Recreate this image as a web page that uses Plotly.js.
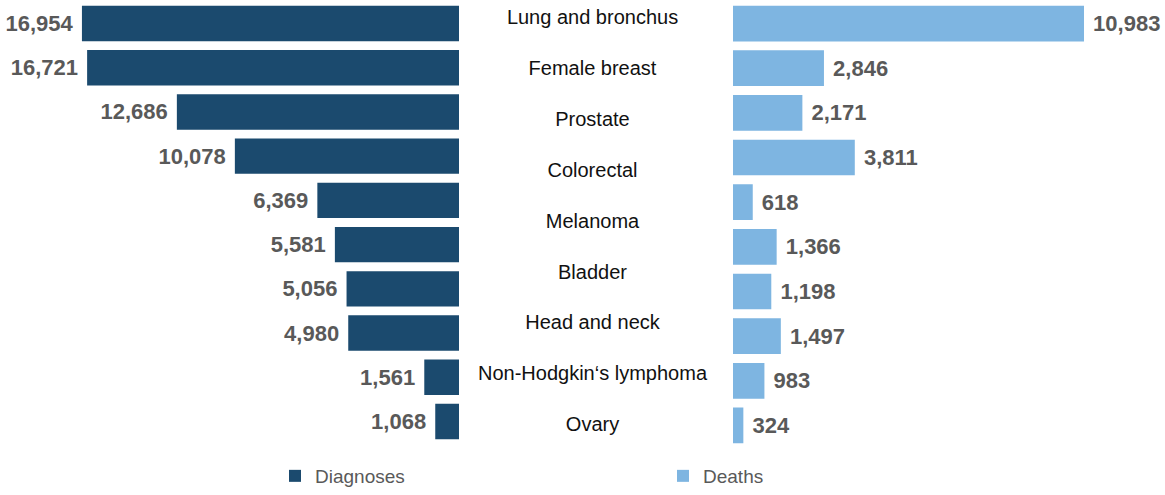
<!DOCTYPE html>
<html>
<head>
<meta charset="utf-8">
<script src="https://cdn.plot.ly/plotly-3.0.1.min.js"></script>
<style>
  html, body { margin: 0; padding: 0; background: #fff; }
  #chart { width: 1165px; height: 495px; }
</style>
</head>
<body>
<div id="chart"></div>
<script>
// ---- data ----
const rows = [1, 2, 3, 4, 5, 6, 7, 8, 9, 10];
const diagnoses = [16954, 16721, 12686, 10078, 6369, 5581, 5056, 4980, 1561, 1068];
const deaths = [10983, 2846, 2171, 3811, 618, 1366, 1198, 1497, 983, 324];
const cancerLabels = ['Lung and bronchus', 'Female breast', 'Prostate', 'Colorectal', 'Melanoma',
  'Bladder', 'Head and neck', 'Non-Hodgkin\u2018s lymphoma', 'Ovary'];

const W = 1165, H = 495;
const darkBlue = '#1B4A6E';
const lightBlue = '#7EB5E1';
const valueFont = { family: '"Liberation Sans", Arial, sans-serif', size: 22, color: '#595959', weight: 700 };

const traces = [
  {
    type: 'bar', orientation: 'h', name: 'Diagnoses',
    x: diagnoses, y: rows, xaxis: 'x', yaxis: 'y',
    marker: { color: darkBlue },
    width: 0.8,
    text: diagnoses.map(v => v.toLocaleString('en-US') + '\u00a0'),
    textposition: 'outside', constraintext: 'none', cliponaxis: false,
    textfont: valueFont,
    hoverinfo: 'x', legend: 'legend'
  },
  {
    type: 'bar', orientation: 'h', name: 'Deaths',
    x: deaths, y: rows, xaxis: 'x2', yaxis: 'y2',
    marker: { color: lightBlue },
    width: 0.8,
    text: deaths.map(v => '\u00a0' + v.toLocaleString('en-US')),
    textposition: 'outside', constraintext: 'none', cliponaxis: false,
    textfont: valueFont,
    hoverinfo: 'x', legend: 'legend2'
  },
  {
    type: 'scatter', mode: 'text', showlegend: false,
    x: cancerLabels.map(() => 0), y: cancerLabels.map((_, i) => i),
    text: cancerLabels, textposition: 'middle center',
    textfont: { family: '"Liberation Sans", Arial, sans-serif', size: 20, color: '#111111' },
    xaxis: 'x3', yaxis: 'y3', hoverinfo: 'skip', cliponaxis: false
  }
];

const hidden = { showgrid: false, zeroline: false, showticklabels: false, ticks: '', showline: false, fixedrange: true };

const layout = {
  width: W, height: H,
  margin: { l: 0, r: 0, t: 0, b: 0, pad: 0 },
  paper_bgcolor: '#ffffff', plot_bgcolor: 'rgba(0,0,0,0)',
  showlegend: true,
  xaxis: Object.assign({}, hidden, { domain: [0, 459 / W], range: [20638, 0], anchor: 'y' }),
  yaxis: Object.assign({}, hidden, { domain: [(H - 443.6) / H, (H - 1.4) / H], range: [10.5, 0.5], anchor: 'x' }),
  xaxis2: Object.assign({}, hidden, { domain: [733 / W, 1], range: [0, 13517], anchor: 'y2' }),
  yaxis2: Object.assign({}, hidden, { domain: [(H - 447.8) / H, (H - 1.2) / H], range: [10.5, 0.5], anchor: 'x2' }),
  xaxis3: Object.assign({}, hidden, { domain: [492.5 / W, 692.5 / W], range: [-1, 1], anchor: 'y3' }),
  yaxis3: Object.assign({}, hidden, { domain: [0, 1], range: [(H - 19) / 50.9, -19 / 50.9], anchor: 'x3' }),
  legend: {
    orientation: 'h', x: 275 / W, xanchor: 'left', y: 19 / H, yanchor: 'middle',
    font: { family: '"Liberation Sans", Arial, sans-serif', size: 19, color: '#595959' },
    itemwidth: 30, bgcolor: 'rgba(0,0,0,0)'
  },
  legend2: {
    orientation: 'h', x: 663 / W, xanchor: 'left', y: 19 / H, yanchor: 'middle',
    font: { family: '"Liberation Sans", Arial, sans-serif', size: 19, color: '#595959' },
    itemwidth: 30, bgcolor: 'rgba(0,0,0,0)'
  },
  hovermode: false
};

Plotly.newPlot('chart', traces, layout, { displayModeBar: false, staticPlot: true });
</script>
</body>
</html>
